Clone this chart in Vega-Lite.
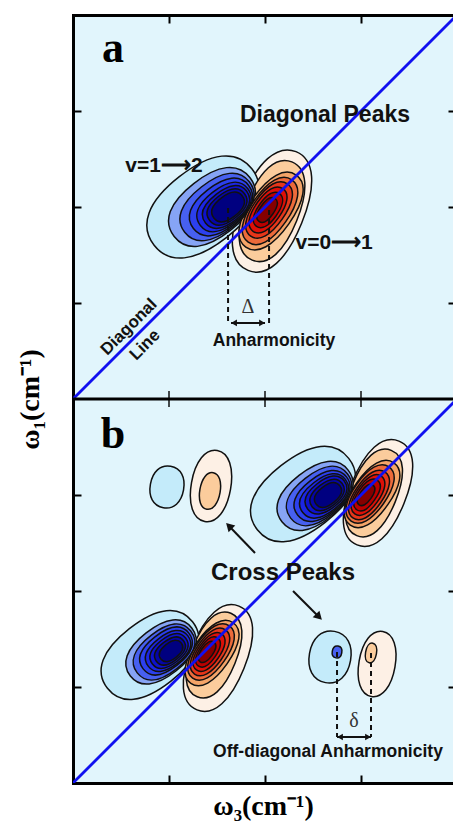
{
  "$schema": "https://vega.github.io/schema/vega-lite/v6.json",
  "width": 380,
  "height": 768,
  "autosize": "none",
  "padding": {"left": 73, "top": 15, "right": 0, "bottom": 49},
  "background": "white",
  "config": {
    "view": {"fill": "#e1f5fc", "stroke": null},
    "axis": {"domainColor": "black", "tickColor": "black", "labels": false, "grid": false}
  },
  "datasets": {
    "contours": [
      {"lobe": "diag-neg", "level": -1, "x": 1.354, "y": 6.0, "r": 0.646},
      {"lobe": "diag-neg", "level": -2, "x": 1.448, "y": 6.0, "r": 0.5},
      {"lobe": "diag-neg", "level": -3, "x": 1.5, "y": 6.0, "r": 0.427},
      {"lobe": "diag-neg", "level": -4, "x": 1.542, "y": 6.0, "r": 0.365},
      {"lobe": "diag-neg", "level": -5, "x": 1.573, "y": 6.0, "r": 0.3125},
      {"lobe": "diag-neg", "level": -6, "x": 1.594, "y": 6.0, "r": 0.271},
      {"lobe": "diag-neg", "level": -7, "x": 1.604, "y": 6.0, "r": 0.229},
      {"lobe": "diag-neg", "level": -8, "x": 1.615, "y": 6.0, "r": 0.1875},
      {"lobe": "diag-pos", "level": 1, "x": 2.073, "y": 5.958, "r": 0.667},
      {"lobe": "diag-pos", "level": 2, "x": 2.073, "y": 5.958, "r": 0.552},
      {"lobe": "diag-pos", "level": 3, "x": 2.0625, "y": 5.958, "r": 0.458},
      {"lobe": "diag-pos", "level": 4, "x": 2.052, "y": 5.958, "r": 0.396},
      {"lobe": "diag-pos", "level": 5, "x": 2.042, "y": 5.969, "r": 0.333},
      {"lobe": "diag-pos", "level": 6, "x": 2.031, "y": 5.969, "r": 0.271},
      {"lobe": "diag-pos", "level": 7, "x": 2.031, "y": 5.969, "r": 0.208},
      {"lobe": "diag-pos", "level": 8, "x": 2.021, "y": 5.969, "r": 0.146},
      {"lobe": "diag-neg", "level": -1, "x": 2.396, "y": 3.01, "r": 0.604},
      {"lobe": "diag-neg", "level": -2, "x": 2.521, "y": 2.99, "r": 0.4375},
      {"lobe": "diag-neg", "level": -3, "x": 2.5625, "y": 2.99, "r": 0.375},
      {"lobe": "diag-neg", "level": -4, "x": 2.594, "y": 2.99, "r": 0.323},
      {"lobe": "diag-neg", "level": -5, "x": 2.615, "y": 2.99, "r": 0.281},
      {"lobe": "diag-neg", "level": -6, "x": 2.635, "y": 3.0, "r": 0.24},
      {"lobe": "diag-neg", "level": -7, "x": 2.646, "y": 3.0, "r": 0.198},
      {"lobe": "diag-neg", "level": -8, "x": 2.656, "y": 3.0, "r": 0.156},
      {"lobe": "diag-pos", "level": 1, "x": 3.177, "y": 3.021, "r": 0.583},
      {"lobe": "diag-pos", "level": 2, "x": 3.135, "y": 3.021, "r": 0.479},
      {"lobe": "diag-pos", "level": 3, "x": 3.115, "y": 3.01, "r": 0.396},
      {"lobe": "diag-pos", "level": 4, "x": 3.094, "y": 3.01, "r": 0.344},
      {"lobe": "diag-pos", "level": 5, "x": 3.083, "y": 3.0, "r": 0.292},
      {"lobe": "diag-pos", "level": 6, "x": 3.073, "y": 3.0, "r": 0.24},
      {"lobe": "diag-pos", "level": 7, "x": 3.0625, "y": 3.0, "r": 0.1875},
      {"lobe": "diag-pos", "level": 8, "x": 3.052, "y": 3.0, "r": 0.125},
      {"lobe": "diag-neg", "level": -1, "x": 0.802, "y": 1.333, "r": 0.5625},
      {"lobe": "diag-neg", "level": -2, "x": 0.917, "y": 1.365, "r": 0.406},
      {"lobe": "diag-neg", "level": -3, "x": 0.948, "y": 1.365, "r": 0.354},
      {"lobe": "diag-neg", "level": -4, "x": 0.969, "y": 1.375, "r": 0.302},
      {"lobe": "diag-neg", "level": -5, "x": 0.99, "y": 1.375, "r": 0.26},
      {"lobe": "diag-neg", "level": -6, "x": 1.0, "y": 1.375, "r": 0.219},
      {"lobe": "diag-neg", "level": -7, "x": 1.01, "y": 1.375, "r": 0.177},
      {"lobe": "diag-neg", "level": -8, "x": 1.021, "y": 1.375, "r": 0.135},
      {"lobe": "diag-pos", "level": 1, "x": 1.51, "y": 1.302, "r": 0.583},
      {"lobe": "diag-pos", "level": 2, "x": 1.469, "y": 1.333, "r": 0.469},
      {"lobe": "diag-pos", "level": 3, "x": 1.448, "y": 1.354, "r": 0.385},
      {"lobe": "diag-pos", "level": 4, "x": 1.4375, "y": 1.365, "r": 0.333},
      {"lobe": "diag-pos", "level": 5, "x": 1.427, "y": 1.365, "r": 0.281},
      {"lobe": "diag-pos", "level": 6, "x": 1.417, "y": 1.365, "r": 0.229},
      {"lobe": "diag-pos", "level": 7, "x": 1.406, "y": 1.365, "r": 0.177},
      {"lobe": "diag-pos", "level": 8, "x": 1.396, "y": 1.365, "r": 0.125},
      {"lobe": "cross-neg", "level": -1, "x": 0.979, "y": 3.083, "r": 0.219},
      {"lobe": "cross-pos", "level": 1, "x": 1.4375, "y": 3.094, "r": 0.375},
      {"lobe": "cross-pos", "level": 2, "x": 1.427, "y": 3.042, "r": 0.193},
      {"lobe": "cross-neg", "level": -1, "x": 2.677, "y": 1.3125, "r": 0.271},
      {"lobe": "cross-neg", "level": -3, "x": 2.75, "y": 1.365, "r": 0.0625},
      {"lobe": "cross-pos", "level": 1, "x": 3.167, "y": 1.24, "r": 0.344},
      {"lobe": "cross-pos", "level": 2, "x": 3.104, "y": 1.354, "r": 0.104}
    ],
    "diagonal": [
      {"panel": "a", "x": 0, "y": 4},
      {"panel": "a", "x": 4, "y": 8},
      {"panel": "b", "x": 0, "y": 0},
      {"panel": "b", "x": 4, "y": 4}
    ],
    "divider": [{"x": 0, "x2": 4, "y": 4}],
    "midticks": [{"x": 1, "y": 4}, {"x": 2, "y": 4}, {"x": 3, "y": 4}],
    "dashed": [
      {"x": 1.615, "y": 5.99, "x2": 1.615, "y2": 4.771},
      {"x": 2.042, "y": 5.969, "x2": 2.042, "y2": 4.771},
      {"x": 2.75, "y": 1.365, "x2": 2.75, "y2": 0.479},
      {"x": 3.104, "y": 1.354, "x2": 3.104, "y2": 0.479}
    ],
    "shafts": [
      {"x": 1.646, "y": 4.792, "x2": 2.0, "y2": 4.792},
      {"x": 2.75, "y": 0.479, "x2": 3.104, "y2": 0.479},
      {"x": 1.896, "y": 2.396, "x2": 1.635, "y2": 2.667},
      {"x": 2.292, "y": 2.0, "x2": 2.552, "y2": 1.74}
    ],
    "headsLeft": [{"x": 1.677, "y": 4.792}, {"x": 2.781, "y": 0.479}],
    "headsRight": [{"x": 1.969, "y": 4.792}, {"x": 3.073, "y": 0.479}],
    "headUpLeft": [{"x": 1.625, "y": 2.677}],
    "headDownRight": [{"x": 2.562, "y": 1.73}],
    "panelLetters": [
      {"x": 0.417, "y": 7.51, "label": "a"},
      {"x": 0.417, "y": 3.49, "label": "b"}
    ],
    "bigLabels": [{"x": 2.625, "y": 6.885, "label": "Diagonal Peaks"}],
    "transitions": [
      {"x": 0.948, "y": 6.365, "label": "v=1⟶2"},
      {"x": 2.72, "y": 5.5625, "label": "v=0⟶1"}
    ],
    "crossLabel": [{"x": 2.1875, "y": 2.115, "label": "Cross Peaks"}],
    "smallLabels": [
      {"x": 2.094, "y": 4.55, "label": "Anharmonicity"},
      {"x": 2.656, "y": 0.27, "label": "Off-diagonal Anharmonicity"}
    ],
    "greek": [
      {"x": 1.823, "y": 4.896, "label": "Δ"},
      {"x": 2.927, "y": 0.583, "label": "δ"}
    ],
    "lineLabel": [
      {"x": 0.583, "y": 4.75, "label": "Diagonal"},
      {"x": 0.75, "y": 4.5625, "label": "Line"}
    ]
  },
  "resolve": {"axis": {"x": "independent", "y": "independent"}},
  "encoding": {
    "x": {"field": "x", "type": "quantitative", "scale": {"domain": [0, 3.958], "nice": false, "zero": false}, "axis": null},
    "y": {"field": "y", "type": "quantitative", "scale": {"domain": [0, 8], "nice": false, "zero": false}, "axis": null}
  },
  "layer": [
    {
      "data": {"name": "contours"},
      "mark": {"type": "point", "filled": true, "opacity": 1, "stroke": "#111111", "strokeWidth": 1.5},
      "encoding": {
        "x": {
          "field": "x", "type": "quantitative",
          "scale": {"domain": [0, 3.958], "nice": false, "zero": false},
          "axis": {"orient": "bottom", "values": [1, 2, 3], "labels": false, "domainWidth": 3, "domainCap": "square", "tickSize": -8, "tickWidth": 2,
                   "title": "ω₃(cm⁻¹)", "titleFont": "Liberation Serif", "titleFontSize": 28, "titleFontWeight": "bold", "titleColor": "black", "titlePadding": 8}
        },
        "y": {
          "field": "y", "type": "quantitative",
          "scale": {"domain": [0, 8], "nice": false, "zero": false},
          "axis": {"orient": "left", "values": [1, 2, 3, 5, 6, 7], "labels": false, "domainWidth": 3, "domainCap": "square", "tickSize": -8, "tickWidth": 2,
                   "title": "ω₁(cm⁻¹)", "titleFont": "Liberation Serif", "titleFontSize": 28, "titleFontWeight": "bold", "titleColor": "black", "titlePadding": 28}
        },
        "size": {"field": "r", "type": "quantitative", "scale": {"type": "pow", "exponent": 2, "domain": [0, 1], "range": [0, 36864]}, "legend": null},
        "shape": {
          "field": "lobe", "type": "nominal",
          "scale": {
            "domain": ["diag-neg", "diag-pos", "cross-neg", "cross-pos"],
            "range": [
              "M -1 0 C -1 -0.4 -0.65 -0.62 0 -0.62 C 0.65 -0.62 1 -0.4 1 0 C 1 0.4 0.65 0.62 0 0.62 C -0.65 0.62 -1 0.4 -1 0 Z",
              "M -1 0 C -1 -0.32 -0.62 -0.5 0 -0.5 C 0.62 -0.5 1 -0.32 1 0 C 1 0.32 0.62 0.5 0 0.5 C -0.62 0.5 -1 0.32 -1 0 Z",
              "M -1 0 C -1 -0.5 -0.6 -0.8 0 -0.8 C 0.6 -0.8 1 -0.5 1 0 C 1 0.5 0.6 0.8 0 0.8 C -0.6 0.8 -1 0.5 -1 0 Z",
              "M -1 0 C -1 -0.33 -0.6 -0.55 0 -0.55 C 0.6 -0.55 1 -0.33 1 0 C 1 0.33 0.6 0.55 0 0.55 C -0.6 0.55 -1 0.33 -1 0 Z"
            ]
          },
          "legend": null
        },
        "fill": {
          "field": "level", "type": "ordinal",
          "scale": {
            "domain": [-8, -7, -6, -5, -4, -3, -2, -1, 1, 2, 3, 4, 5, 6, 7, 8],
            "range": ["#000080", "#0505a8", "#0e12cc", "#1c26e4", "#2c40ee", "#4760f0", "#86a4f5", "#c4ebfa",
                      "#fdf0e5", "#fbcc9c", "#f4a468", "#ec6a3a", "#e6361a", "#dd1008", "#bb0000", "#850000"]
          },
          "legend": null
        },
        "angle": {
          "condition": [
            {"test": "datum.lobe === 'diag-neg'", "value": 322},
            {"test": "datum.lobe === 'diag-pos' && datum.level <= 2", "value": 292},
            {"test": "datum.lobe === 'diag-pos'", "value": 305}
          ],
          "value": 280
        },
        "order": {"field": "r", "type": "quantitative", "sort": "descending"}
      }
    },
    {
      "data": {"name": "diagonal"},
      "mark": {"type": "line", "color": "#1010f0", "strokeWidth": 2.8, "clip": true},
      "encoding": {"detail": {"field": "panel", "type": "nominal"}}
    },
    {
      "data": {"name": "divider"},
      "mark": {"type": "rule", "color": "black", "strokeWidth": 3, "clip": true},
      "encoding": {
        "x": {
          "field": "x", "type": "quantitative",
          "scale": {"domain": [0, 3.958], "nice": false, "zero": false},
          "axis": {"orient": "top", "values": [1, 2, 3], "labels": false, "domainWidth": 3, "domainCap": "square", "tickSize": -8, "tickWidth": 2, "title": null}
        },
        "x2": {"field": "x2"},
        "y": {
          "field": "y", "type": "quantitative",
          "scale": {"domain": [0, 8], "nice": false, "zero": false},
          "axis": {"orient": "right", "values": [1, 2, 3, 5, 6, 7], "labels": false, "domain": false, "tickSize": -5, "tickWidth": 2, "title": null}
        }
      }
    },
    {
      "data": {"name": "midticks"},
      "mark": {"type": "tick", "orient": "vertical", "color": "black", "size": 16, "thickness": 2}
    },
    {
      "data": {"name": "dashed"},
      "mark": {"type": "rule", "color": "#111111", "strokeWidth": 2, "strokeDash": [5, 4]},
      "encoding": {"x2": {"field": "x2"}, "y2": {"field": "y2"}}
    },
    {
      "data": {"name": "shafts"},
      "mark": {"type": "rule", "color": "#111111", "strokeWidth": 2},
      "encoding": {"x2": {"field": "x2"}, "y2": {"field": "y2"}}
    },
    {
      "data": {"name": "headsLeft"},
      "mark": {"type": "point", "shape": "triangle-left", "filled": true, "color": "#111111", "opacity": 1, "size": 45}
    },
    {
      "data": {"name": "headsRight"},
      "mark": {"type": "point", "shape": "triangle-right", "filled": true, "color": "#111111", "opacity": 1, "size": 45}
    },
    {
      "data": {"name": "headUpLeft"},
      "mark": {"type": "point", "shape": "triangle-up", "filled": true, "color": "#111111", "opacity": 1, "size": 90, "angle": 315}
    },
    {
      "data": {"name": "headDownRight"},
      "mark": {"type": "point", "shape": "triangle-up", "filled": true, "color": "#111111", "opacity": 1, "size": 90, "angle": 135}
    },
    {
      "data": {"name": "panelLetters"},
      "mark": {"type": "text", "font": "Liberation Serif", "fontWeight": "bold", "fontSize": 44, "color": "black", "align": "center", "baseline": "alphabetic"},
      "encoding": {"text": {"field": "label"}}
    },
    {
      "data": {"name": "bigLabels"},
      "mark": {"type": "text", "font": "Liberation Sans", "fontWeight": "bold", "fontSize": 23, "color": "#111111", "align": "center", "baseline": "alphabetic"},
      "encoding": {"text": {"field": "label"}}
    },
    {
      "data": {"name": "transitions"},
      "mark": {"type": "text", "font": "Liberation Sans", "fontWeight": "bold", "fontSize": 21, "color": "#111111", "align": "center", "baseline": "alphabetic"},
      "encoding": {"text": {"field": "label"}}
    },
    {
      "data": {"name": "crossLabel"},
      "mark": {"type": "text", "font": "Liberation Sans", "fontWeight": "bold", "fontSize": 24, "color": "#111111", "align": "center", "baseline": "alphabetic"},
      "encoding": {"text": {"field": "label"}}
    },
    {
      "data": {"name": "smallLabels"},
      "mark": {"type": "text", "font": "Liberation Sans", "fontWeight": "bold", "fontSize": 17.5, "color": "#111111", "align": "center", "baseline": "alphabetic"},
      "encoding": {"text": {"field": "label"}}
    },
    {
      "data": {"name": "greek"},
      "mark": {"type": "text", "font": "Liberation Serif", "fontSize": 20, "color": "#333333", "align": "center", "baseline": "alphabetic"},
      "encoding": {"text": {"field": "label"}}
    },
    {
      "data": {"name": "lineLabel"},
      "mark": {"type": "text", "font": "Liberation Sans", "fontWeight": "bold", "fontSize": 17, "color": "#111111", "align": "center", "baseline": "middle", "angle": 315},
      "encoding": {"text": {"field": "label"}}
    }
  ]
}
